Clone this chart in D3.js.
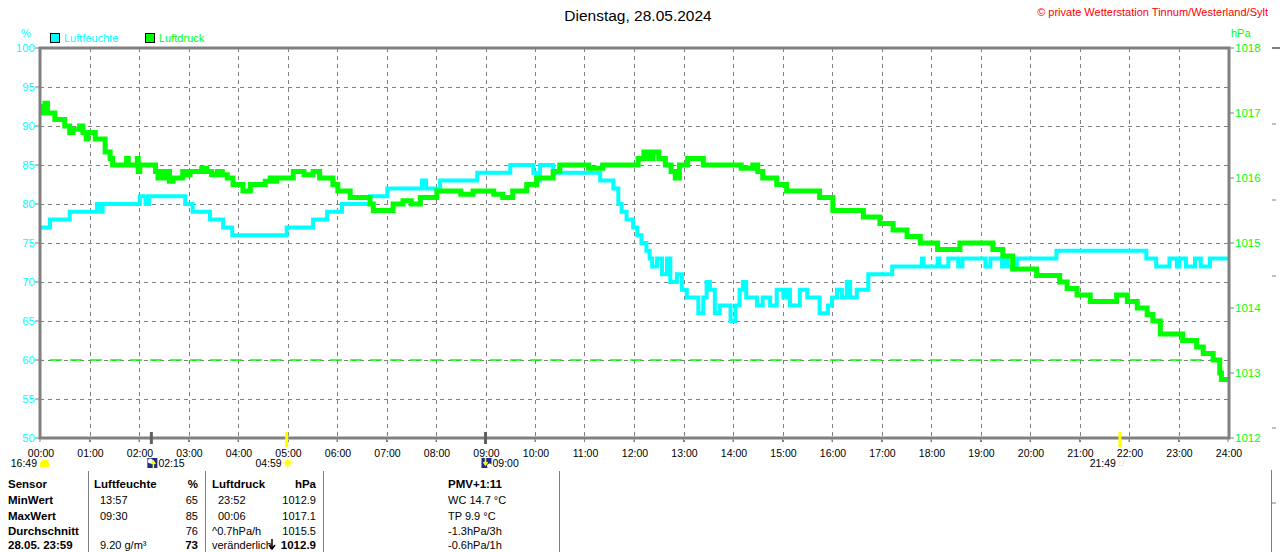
<!DOCTYPE html>
<html><head><meta charset="utf-8">
<script src="https://cdn.jsdelivr.net/npm/d3@7"></script>
<style>
html,body{margin:0;padding:0;background:#fff;}
svg{display:block;font-family:"Liberation Sans",Arial,sans-serif;}
</style></head>
<body><svg id="c" width="1280" height="552"></svg>
<script>
// ---------- data ----------
const title = "Dienstag, 28.05.2024";
const copyright = "© private Wetterstation Tinnum/Westerland/Sylt";
const seriesNames = ["Luftfeuchte", "Luftdruck"];
const hourTicks = d3.range(0, 25);
const humidityTicks = [50, 55, 60, 65, 70, 75, 80, 85, 90, 95, 100];
const pressureTicks = [1012, 1013, 1014, 1015, 1016, 1017, 1018];
const referenceHumidity = 60;

// humidity (%) – step values [time, value]
const humidity = [
["00:00",77],["00:12",78],["00:36",79],["01:09",80],["01:14",79],["01:16",80],
["02:01",81],["02:08",80],["02:12",81],["02:56",80],["03:05",79],["03:26",78],
["03:42",77],["03:53",76],["04:59",77],["05:31",78],["05:48",79],["06:06",80],
["06:40",81],["07:01",82],["07:43",83],["07:48",82],["08:05",83],["08:50",84],
["09:30",85],["09:58",84],["10:02",83],["10:06",85],["10:22",84],["11:19",83],
["11:35",82],["11:41",80],["11:45",79],["11:51",78],["11:59",77],["12:04",76],
["12:09",75],["12:15",74],["12:19",73],["12:22",72],["12:28",73],["12:34",71],
["12:40",73],["12:44",70],["12:52",71],["12:58",69],["13:04",68],["13:18",66],
["13:24",68],["13:28",70],["13:32",69],["13:38",66],["13:44",67],["13:57",65],
["14:03",67],["14:08",69],["14:12",70],["14:16",68],["14:21",68],["14:29",67],
["14:36",68],["14:45",67],["14:53",69],["15:01",68],["15:05",69],["15:09",67],
["15:13",67],["15:21",69],["15:30",68],["15:45",66],["15:55",67],["16:00",68],
["16:06",69],["16:12",68],["16:18",70],["16:22",68],["16:30",69],["16:44",71],
["17:13",72],["17:49",73],["17:51",72],["18:08",73],["18:10",72],["18:21",73],
["18:33",72],["18:38",73],["19:06",72],["19:12",73],["19:26",72],["19:30",73],
["19:33",72],["19:44",73],["20:32",74],["22:21",73],["22:33",72],["22:49",73],
["22:58",72],["23:01",73],["23:09",72],["23:20",73],["23:27",72],["23:38",73],
["24:00",73]
];

// air pressure (hPa) – [time, value]
const pressure = [
["00:00",1017.0],["00:04",1017.1],["00:06",1017.15],["00:09",1017.0],["00:16",1017.0],
["00:18",1016.9],["00:27",1016.9],["00:30",1016.8],["00:36",1016.7],["00:40",1016.75],
["00:48",1016.8],["00:52",1016.7],["00:56",1016.6],["00:58",1016.7],["01:07",1016.6],
["01:15",1016.6],["01:19",1016.4],["01:25",1016.3],["01:28",1016.2],["01:44",1016.2],
["01:45",1016.3],["01:47",1016.2],["01:58",1016.3],["01:59",1016.1],["02:01",1016.2],
["02:17",1016.2],["02:20",1016.1],["02:23",1016.0],["02:26",1016.1],["02:29",1016.0],
["02:33",1016.1],["02:37",1015.95],["02:41",1016.0],["02:45",1016.0],["02:53",1016.1],
["02:58",1016.05],["03:02",1016.1],["03:10",1016.1],["03:16",1016.15],["03:22",1016.1],
["03:28",1016.05],["03:35",1016.1],["03:41",1016.05],["03:47",1016.0],["03:54",1015.9],
["04:06",1015.8],["04:15",1015.9],["04:27",1015.9],["04:33",1015.95],["04:39",1016.0],
["04:44",1015.95],["04:47",1016.0],["04:59",1016.0],["05:07",1016.1],["05:20",1016.05],
["05:31",1016.1],["05:39",1016.0],["05:55",1015.9],["06:01",1015.8],["06:16",1015.7],
["06:28",1015.7],["06:40",1015.6],["06:44",1015.5],["07:01",1015.5],["07:08",1015.6],
["07:20",1015.65],["07:30",1015.6],["07:41",1015.7],["07:49",1015.7],["08:01",1015.8],
["08:13",1015.8],["08:30",1015.75],["08:45",1015.8],["09:02",1015.8],["09:10",1015.75],
["09:21",1015.7],["09:33",1015.8],["09:50",1015.9],["10:02",1016.0],["10:22",1016.1],
["10:30",1016.2],["10:50",1016.2],["11:05",1016.15],["11:22",1016.2],["11:43",1016.2],
["12:05",1016.3],["12:12",1016.4],["12:18",1016.3],["12:23",1016.4],["12:30",1016.3],
["12:38",1016.2],["12:45",1016.1],["12:50",1016.0],["12:55",1016.2],["13:05",1016.3],
["13:18",1016.3],["13:24",1016.2],["13:40",1016.2],["13:56",1016.2],["14:10",1016.15],
["14:24",1016.2],["14:30",1016.1],["14:36",1016.0],["14:53",1015.9],["15:05",1015.8],
["15:30",1015.8],["15:45",1015.7],["16:01",1015.5],["16:22",1015.5],["16:38",1015.4],
["16:58",1015.3],["17:14",1015.2],["17:31",1015.1],["17:47",1015.0],["17:59",1015.0],
["18:08",1014.9],["18:19",1014.9],["18:35",1015.0],["18:59",1015.0],["19:15",1014.9],
["19:27",1014.8],["19:39",1014.6],["19:56",1014.6],["20:08",1014.5],["20:21",1014.5],
["20:36",1014.4],["20:45",1014.3],["20:57",1014.2],["21:13",1014.1],["21:33",1014.1],
["21:45",1014.2],["21:58",1014.1],["22:10",1014.0],["22:22",1013.9],["22:29",1013.8],
["22:38",1013.6],["22:58",1013.6],["23:05",1013.5],["23:22",1013.4],["23:30",1013.3],
["23:42",1013.2],["23:50",1013.0],["23:52",1012.9],["24:00",1012.9]
];

// sun / moon events
const events = [
{time:"00:00", label:"16:49", kind:"moonset0"},
{time:"02:15", label:"02:15", kind:"moonrise"},
{time:"04:59", label:"04:59", kind:"sunrise"},
{time:"09:00", label:"09:00", kind:"moonset"},
{time:"21:49", label:"21:49", kind:"sunset"}
];

// statistics table
const tableRows = ["Sensor","MinWert","MaxWert","Durchschnitt","28.05. 23:59"];
const humCol = [["Luftfeuchte","%"],["13:57","65"],["09:30","85"],["","76"],["9.20 g/m³","73"]];
const presCol = [["Luftdruck","hPa"],["23:52","1012.9"],["00:06","1017.1"],["^0.7hPa/h","1015.5"],["veränderlich","1012.9"]];
const extraCol = ["PMV+1:11","WC 14.7 °C","TP 9.9 °C","-1.3hPa/3h","-0.6hPa/1h"];

// ---------- drawing ----------
const toMin = s => { const [h,m] = s.split(":").map(Number); return h*60+m; };
const svg = d3.select("#c");
const L = 40, R = 1228, T = 48, B = 438;
const x = d3.scaleLinear().domain([0,1440]).range([L,R]);
const yH = d3.scaleLinear().domain([50,100]).range([B,T]);
const yP = d3.scaleLinear().domain([1012,1018]).range([B,T]);
const CYAN = "#00ffff", GREEN = "#00ff00", GRAY = "#808080";

// title
svg.append("text").attr("x",638).attr("y",21).attr("text-anchor","middle")
  .attr("font-size",15.5).attr("fill","#000").text(title);
svg.append("text").attr("x",1268).attr("y",16).attr("text-anchor","end")
  .attr("font-size",11).attr("fill","#ff0000").text(copyright);

// unit labels
svg.append("text").attr("x",26).attr("y",37).attr("text-anchor","middle").attr("font-size",11).attr("fill",CYAN).text("%");
svg.append("text").attr("x",1231).attr("y",37).attr("font-size",11).attr("fill",GREEN).text("hPa");

// legend
const leg = [{name:seriesNames[0],c:CYAN,x:50},{name:seriesNames[1],c:GREEN,x:145}];
leg.forEach(d=>{
  svg.append("rect").attr("x",d.x+0.5).attr("y",33.5).attr("width",9).attr("height",9)
    .attr("fill",d.c).attr("stroke","#000").attr("stroke-width",1);
  svg.append("text").attr("x",d.x+14).attr("y",42).attr("font-size",11).attr("fill",d.c).text(d.name);
});

// grid
const grid = svg.append("g").attr("stroke",GRAY).attr("stroke-width",1).attr("stroke-dasharray","4,4");
humidityTicks.filter(v=>v>50&&v<100).forEach(v=>{
  grid.append("line").attr("x1",L).attr("x2",R).attr("y1",Math.round(yH(v))+0.5).attr("y2",Math.round(yH(v))+0.5);
});
hourTicks.filter(h=>h>0&&h<24).forEach(h=>{
  grid.append("line").attr("x1",Math.round(x(h*60))+0.5).attr("x2",Math.round(x(h*60))+0.5).attr("y1",T).attr("y2",B+4);
});

// reference line 60%
svg.append("line").attr("x1",L).attr("x2",R).attr("y1",yH(referenceHumidity)).attr("y2",yH(referenceHumidity))
  .attr("stroke",GREEN).attr("stroke-width",1.5).attr("stroke-dasharray","12,8").attr("stroke-dashoffset",-10);

// series
const hLine = d3.line().x(d=>x(toMin(d[0]))).y(d=>yH(d[1])).curve(d3.curveStepAfter);
const pLine = d3.line().x(d=>x(toMin(d[0]))).y(d=>yP(d[1])).curve(d3.curveStepAfter);
svg.append("path").datum(humidity).attr("d",hLine).attr("fill","none").attr("stroke",CYAN).attr("stroke-width",4);
svg.append("path").datum(pressure).attr("d",pLine).attr("fill","none").attr("stroke",GREEN).attr("stroke-width",5);

// frame
const fr = svg.append("g").attr("stroke",GRAY).attr("stroke-width",3).attr("fill","none");
fr.append("path").attr("d",`M${L},${T} H${R+1} V${B} H${L} Z`);

// left axis
const axL = svg.append("g");
humidityTicks.forEach(v=>{
  axL.append("line").attr("x1",L-5).attr("x2",L).attr("y1",yH(v)).attr("y2",yH(v)).attr("stroke",GRAY);
  axL.append("text").attr("x",L-5).attr("y",yH(v)+4).attr("text-anchor","end").attr("font-size",11.5).attr("fill",CYAN).text(v);
});
// right axis
const axR = svg.append("g");
pressureTicks.forEach(v=>{
  axR.append("line").attr("x1",R+1).attr("x2",R+6).attr("y1",yP(v)).attr("y2",yP(v)).attr("stroke",GRAY);
  axR.append("text").attr("x",R+7).attr("y",yP(v)+4).attr("font-size",11.5).attr("fill",GREEN).text(v);
});
// x axis labels
hourTicks.forEach(h=>{
  svg.append("line").attr("x1",x(h*60)).attr("x2",x(h*60)).attr("y1",B).attr("y2",B+4).attr("stroke",GRAY);
  svg.append("text").attr("x",x(h*60)+1).attr("y",457).attr("text-anchor","middle").attr("font-size",10.5)
    .attr("fill","#000").text(d3.format("02")(h)+":00");
});

// events
events.forEach(e=>{
  const ex = x(toMin(e.time));
  const g = svg.append("g");
  if(e.kind==="moonset0"){
    g.append("text").attr("x",37).attr("y",467).attr("text-anchor","end").attr("font-size",10.5).text(e.label);
    g.append("path").attr("d","M40,467 L40,463 Q42,459 45,460 Q48,459 49,463 L49,467 Z").attr("fill","#ffff00");
    return;
  }
  const isSun = e.kind.startsWith("sun");
  g.append("line").attr("x1",ex).attr("x2",ex).attr("y1",432).attr("y2",isSun?447:444)
    .attr("stroke",isSun?"#ffff00":"#606060").attr("stroke-width",3);
  if(e.kind==="moonrise"||e.kind==="moonset"){
    const sx = ex-4;
    g.append("rect").attr("x",sx).attr("y",458).attr("width",10).attr("height",10).attr("fill","#1c2a8c");
    if(e.kind==="moonrise"){
      g.append("circle").attr("cx",sx+3).attr("cy",461).attr("r",2.5).attr("fill","#fff");
      g.append("path").attr("d",`M${sx+6},468 V462 M${sx+4},464 L${sx+6},461 L${sx+8},464`).attr("stroke","#ffff00").attr("stroke-width",1.5).attr("fill","none");
    } else {
      g.append("circle").attr("cx",sx+8).attr("cy",466).attr("r",2.5).attr("fill","#fff");
      g.append("path").attr("d",`M${sx+4},458 V464 M${sx+2},462 L${sx+4},465 L${sx+6},462`).attr("stroke","#ffff00").attr("stroke-width",1.5).attr("fill","none");
    }
    g.append("text").attr("x",sx+11).attr("y",467).attr("font-size",10.5).text(e.label);
  } else if(e.kind==="sunrise"){
    g.append("circle").attr("cx",ex+1).attr("cy",463).attr("r",3).attr("fill","#ffff00");
    [0,45,90,135,180,225,270,315].forEach(a=>{
      const r=a*Math.PI/180;
      g.append("line").attr("x1",ex+1+Math.cos(r)*3.5).attr("y1",463+Math.sin(r)*3.5)
        .attr("x2",ex+1+Math.cos(r)*5.5).attr("y2",463+Math.sin(r)*5.5).attr("stroke","#ffff00").attr("stroke-width",1);
    });
    g.append("text").attr("x",ex-5).attr("y",467).attr("text-anchor","end").attr("font-size",10.5).text(e.label);
  } else {
    g.append("rect").attr("x",ex-0.5).attr("y",461.5).attr("width",4).attr("height",4).attr("fill","none").attr("stroke","#ffff60").attr("stroke-width",1);
    g.append("text").attr("x",ex-4).attr("y",467).attr("text-anchor","end").attr("font-size",10.5).text(e.label);
  }
});

// table
[88,205,323,559].forEach(vx=>{
  svg.append("line").attr("x1",vx+0.5).attr("x2",vx+0.5).attr("y1",471).attr("y2",552).attr("stroke",GRAY).attr("stroke-width",1);
});
const rowY = [488,504,520,535,549];
tableRows.forEach((t,i)=>{
  svg.append("text").attr("x",8).attr("y",rowY[i]).attr("font-size",11.5).attr("font-weight","bold").text(t);
});
humCol.forEach((r,i)=>{
  const bold = i===0;
  svg.append("text").attr("x",i===0?94:100).attr("y",rowY[i]).attr("font-size",bold?11.5:11)
    .attr("font-weight",bold?"bold":"normal").text(r[0]);
  svg.append("text").attr("x",198).attr("y",rowY[i]).attr("text-anchor","end").attr("font-size",(i===0||i===4)?11.5:11)
    .attr("font-weight",(i===0||i===4)?"bold":"normal").text(r[1]);
});
presCol.forEach((r,i)=>{
  const bold = i===0;
  svg.append("text").attr("x",(i===0||i>=3)?212:218).attr("y",rowY[i]).attr("font-size",bold?11.5:11)
    .attr("font-weight",bold?"bold":"normal").text(r[0]);
  svg.append("text").attr("x",316).attr("y",rowY[i]).attr("text-anchor","end").attr("font-size",(i===0||i===4)?11.5:11)
    .attr("font-weight",(i===0||i===4)?"bold":"normal").text(r[1]);
});
// trend arrow
svg.append("path").attr("d","M272,539 V549 M269,545 L272,549 L275,545").attr("stroke","#000").attr("stroke-width",1.5).attr("fill","none");
extraCol.forEach((t,i)=>{
  svg.append("text").attr("x",448).attr("y",rowY[i]).attr("font-size",i===0?11.5:11)
    .attr("font-weight",i===0?"bold":"normal").text(t);
});

// neighbouring panel edge (cut off at the right border)
const nb = svg.append("g").attr("stroke",GRAY);
nb.append("line").attr("x1",1272).attr("x2",1280).attr("y1",48).attr("y2",48).attr("stroke-width",2);
[124,200,276,428,503].forEach(v=>nb.append("line").attr("x1",1272).attr("x2",1276).attr("y1",v).attr("y2",v));
nb.append("line").attr("x1",1271.5).attr("x2",1271.5).attr("y1",470).attr("y2",552);
</script></body></html>
